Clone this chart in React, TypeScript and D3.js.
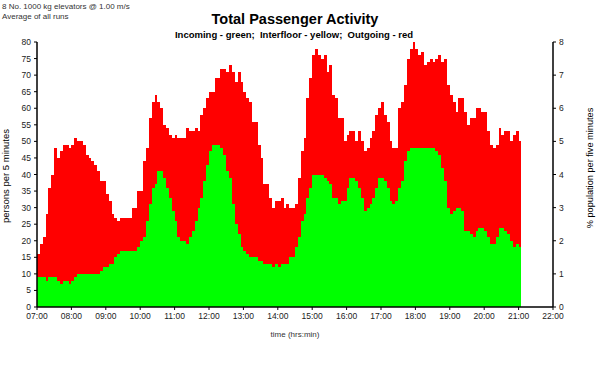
import { useEffect, useRef } from 'react';
import * as d3 from 'd3';

// 5-minute bins starting 07:00 (169 bins, last is 21:00-21:05)
const incoming = [
  9, 9, 9, 8, 9, 9, 9, 8, 7, 8, 8, 7, 8, 9, 10, 10, 10, 10, 10, 10, 10, 10, 11, 12,
  12, 13, 13, 15, 16, 17, 17, 17, 17, 17, 17, 18, 20, 21, 26, 31, 36, 37, 41, 41,
  39, 36, 33, 29, 26, 21, 20, 20, 19, 21, 23, 26, 30, 33, 38, 43, 47, 49, 49, 49,
  48, 46, 41, 39, 31, 25, 22, 18, 17, 16, 15, 15, 15, 14, 14, 13, 13, 13, 12, 13,
  12, 13, 13, 13, 15, 15, 18, 21, 26, 28, 33, 36, 40, 40, 40, 40, 39, 38, 37, 33,
  33, 31, 32, 32, 36, 39, 39, 38, 36, 33, 29, 30, 31, 33, 36, 39, 39, 38, 36, 32,
  31, 32, 36, 38, 44, 47, 48, 48, 48, 48, 48, 48, 48, 48, 48, 47, 46, 42, 38, 30,
  28, 29, 30, 30, 29, 23, 23, 22, 21, 23, 24, 24, 23, 21, 19, 19, 21, 24, 24, 23,
  22, 20, 18, 19, 18,
];

const outgoing = [
  7, 10, 12, 20, 27, 31, 39, 37, 40, 41, 41, 41, 41, 42, 40, 40, 39, 36, 35, 34, 33, 31, 27, 26,
  22, 19, 15, 12, 10, 10, 10, 10, 10, 13, 13, 17, 15, 23, 22, 26, 26, 27, 21, 19,
  16, 18, 19, 22, 26, 30, 31, 31, 35, 32, 30, 28, 23, 25, 22, 20, 18, 16, 20, 20,
  24, 26, 30, 34, 40, 43, 49, 50, 48, 47, 47, 41, 41, 35, 31, 24, 24, 20, 18, 19,
  20, 20, 17, 18, 15, 15, 13, 18, 21, 23, 30, 33, 36, 38, 36, 35, 37, 33, 36, 31,
  30, 26, 25, 18, 16, 14, 14, 12, 17, 17, 18, 18, 20, 20, 22, 21, 23, 20, 20, 18,
  17, 16, 24, 24, 23, 28, 30, 32, 30, 28, 29, 25, 26, 27, 26, 28, 30, 32, 37, 37,
  36, 33, 29, 33, 34, 36, 32, 35, 36, 37, 36, 35, 36, 32, 30, 29, 28, 30, 28, 30,
  31, 30, 34, 34, 32,
];

const hourLabels = [
  '07:00', '08:00', '09:00', '10:00', '11:00', '12:00', '13:00', '14:00',
  '15:00', '16:00', '17:00', '18:00', '19:00', '20:00', '21:00', '22:00',
];
const leftTicks = [0, 5, 10, 15, 20, 25, 30, 35, 40, 45, 50, 55, 60, 65, 70, 75, 80];
const rightTicks = [0, 1, 2, 3, 4, 5, 6, 7, 8];

const W = 602;
const H = 371;
const font = 'Liberation Sans, Arial, sans-serif';

const PassengerChart = () => {
  const svgRef = useRef<SVGSVGElement>(null);

  useEffect(() => {
    if (!svgRef.current) return;
    const svg = d3.select(svgRef.current);
    svg.selectAll('*').remove();

    const left = 37;
    const right = 553;
    const top = 42;
    const bottom = 307;

    // x in minutes from 07:00
    const x = d3.scaleLinear().domain([0, 15 * 60]).range([left, right]);
    const y = d3.scaleLinear().domain([0, 80]).range([bottom, top]);
    const y2 = d3.scaleLinear().domain([0, 8]).range([bottom, top]);

    // bins + closing point so the last step has width
    const rows = incoming.map((v, i) => ({ t: i * 5, incoming: v, outgoing: outgoing[i] }));
    const last = rows[rows.length - 1];
    rows.push({ ...last, t: last.t + 5 });

    const stack = d3.stack<any>().keys(['incoming', 'outgoing'])(rows);
    const colors = ['#00ff00', '#ff0000'];

    const area = d3
      .area<any>()
      .curve(d3.curveStepAfter)
      .x((d) => x(d.data.t))
      .y0((d) => y(d[0]))
      .y1((d) => y(d[1]));

    // draw red (total) under green so no seams show
    svg
      .selectAll('path.layer')
      .data(stack.slice().reverse())
      .enter()
      .append('path')
      .attr('class', 'layer')
      .attr('d', (d: any) => area(d) || '')
      .attr('fill', (d: any) => colors[d.index])
      .attr('shape-rendering', 'crispEdges');

    const g = svg.append('g').attr('font-family', font).attr('font-size', 8.5).attr('fill', '#222');

    // axes lines
    g.append('line').attr('x1', left).attr('x2', left).attr('y1', top).attr('y2', bottom).attr('stroke', '#000').attr('stroke-width', 1.5);
    g.append('line').attr('x1', right).attr('x2', right).attr('y1', top).attr('y2', bottom).attr('stroke', '#000').attr('stroke-width', 1.5);
    g.append('line').attr('x1', left).attr('x2', right).attr('y1', bottom).attr('y2', bottom).attr('stroke', '#000').attr('stroke-width', 1.5);

    // left ticks
    leftTicks.forEach((v) => {
      g.append('line').attr('x1', left - 3).attr('x2', left).attr('y1', y(v)).attr('y2', y(v)).attr('stroke', '#000');
      g.append('text')
        .attr('x', left - 6)
        .attr('y', y(v) + 3)
        .attr('text-anchor', 'end')
        .text(v);
    });

    // right ticks
    rightTicks.forEach((v) => {
      g.append('line').attr('x1', right).attr('x2', right + 3).attr('y1', y2(v)).attr('y2', y2(v)).attr('stroke', '#000');
      g.append('text')
        .attr('x', right + 6)
        .attr('y', y2(v) + 3)
        .text(v);
    });

    // bottom ticks
    hourLabels.forEach((lab, i) => {
      const xx = x(i * 60);
      g.append('line').attr('x1', xx).attr('x2', xx).attr('y1', bottom).attr('y2', bottom + 3).attr('stroke', '#000');
      g.append('text')
        .attr('x', xx)
        .attr('y', bottom + 12)
        .attr('text-anchor', 'middle')
        .text(lab);
    });

    // axis titles
    g.append('text')
      .attr('x', 295)
      .attr('y', 337)
      .attr('text-anchor', 'middle')
      .attr('font-size', 8)
      .attr('fill', '#333')
      .text('time (hrs:min)');

    g.append('text')
      .attr('transform', `translate(9, 176) rotate(-90)`)
      .attr('text-anchor', 'middle')
      .attr('font-size', 9.5)
      .attr('fill', '#000')
      .text('persons per 5 minutes');

    g.append('text')
      .attr('transform', `translate(593, 168) rotate(-90)`)
      .attr('text-anchor', 'middle')
      .attr('font-size', 9.2)
      .attr('fill', '#000')
      .text('% population per five minutes');

    // titles
    g.append('text')
      .attr('x', 295)
      .attr('y', 24)
      .attr('text-anchor', 'middle')
      .attr('font-size', 14.5)
      .attr('font-weight', 'bold')
      .attr('fill', '#000')
      .text('Total Passenger Activity');

    g.append('text')
      .attr('x', 294)
      .attr('y', 38)
      .attr('text-anchor', 'middle')
      .attr('font-size', 9.5)
      .attr('font-weight', 'bold')
      .attr('fill', '#000')
      .attr('xml:space', 'preserve')
      .style('white-space', 'pre')
      .text('Incoming - green;  Interfloor - yellow;  Outgoing - red');

    g.append('text').attr('x', 2).attr('y', 9).attr('font-size', 8).attr('fill', '#333').text('8 No. 1000 kg elevators @ 1.00 m/s');
    g.append('text').attr('x', 2).attr('y', 19).attr('font-size', 8).attr('fill', '#333').text('Average of all runs');
  }, []);

  return <svg ref={svgRef} width={W} height={H} style={{ display: 'block', background: '#fff' }} />;
};

export default function App() {
  return (
    <div style={{ position: 'absolute', left: 0, top: 0 }}>
      <PassengerChart />
    </div>
  );
}
